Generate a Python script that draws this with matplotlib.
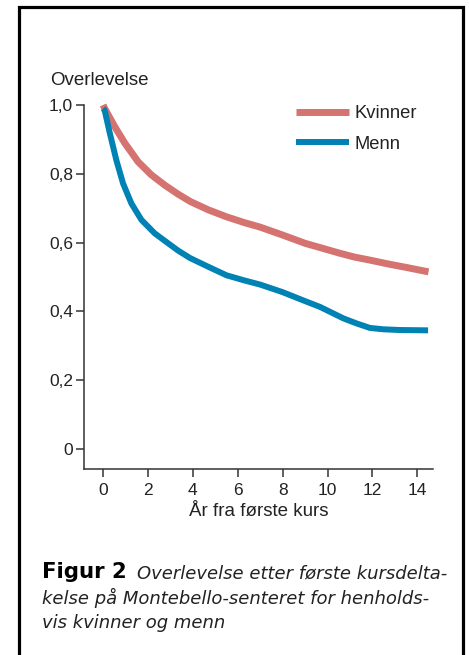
import matplotlib.pyplot as plt
from matplotlib.patches import Rectangle

# survival (years, proportion alive)
t_kvinner = [0, 0.07, 0.52, 0.97, 1.56, 2.15, 2.75, 3.34, 3.9, 4.7, 5.5, 6.3,
             7.0, 8.0, 9.0, 9.7, 10.5, 11.2, 11.9, 12.7, 13.5, 14.5]
s_kvinner = [1.0, 0.99, 0.937, 0.889, 0.835, 0.797, 0.767, 0.741, 0.719,
             0.695, 0.675, 0.658, 0.645, 0.622, 0.598, 0.585, 0.57, 0.558,
             0.549, 0.538, 0.528, 0.515]

t_menn = [0, 0.07, 0.30, 0.59, 0.89, 1.26, 1.71, 2.30, 2.90, 3.34, 3.88,
          4.68, 5.5, 6.3, 7.0, 8.0, 9.0, 9.67, 10.7, 11.3, 11.89, 12.5, 13.2,
          14.48]
s_menn = [0.99, 0.985, 0.918, 0.84, 0.772, 0.714, 0.666, 0.627, 0.598, 0.577,
          0.555, 0.53, 0.505, 0.49, 0.478, 0.456, 0.43, 0.413, 0.38, 0.365,
          0.352, 0.348, 0.346, 0.345]

xticks = [0, 2, 4, 6, 8, 10, 12, 14]
yticks = [0, 0.2, 0.4, 0.6, 0.8, 1.0]
ylabels = ["0", "0,2", "0,4", "0,6", "0,8", "1,0"]

red = "#d4736f"
blue = "#0082b4"
ink = "#222222"

plt.rcParams['font.family'] = ['Liberation Sans', 'DejaVu Sans']

W, H = 469, 655
fig = plt.figure(figsize=(W / 100, H / 100), dpi=100)

# frame around the whole figure (open at the bottom of the crop)
fig.patches.append(Rectangle((18.5 / W, -0.05), (463 - 18.5) / W, 1.05 - 6.5 / H,
                             transform=fig.transFigure, fill=False,
                             edgecolor="black", linewidth=2.3, clip_on=False))

ax = fig.add_axes([84 / W, (H - 469) / H, (433 - 84) / W, (469 - 105) / H])
ax.plot(t_kvinner, s_kvinner, color=red, lw=5, label="Kvinner",
        solid_capstyle="butt", clip_on=False)
ax.plot(t_menn, s_menn, color=blue, lw=4.3, label="Menn",
        solid_capstyle="butt", clip_on=False)

ax.set_xlim(-0.85, 14.7)
ax.set_ylim(-0.058, 1.0)
ax.set_xticks(xticks)
ax.set_xticklabels([str(v) for v in xticks])
ax.set_yticks(yticks)
ax.set_yticklabels(ylabels)

for s in ["top", "right"]:
    ax.spines[s].set_visible(False)
for s in ["left", "bottom"]:
    ax.spines[s].set_linewidth(1.1)
    ax.spines[s].set_color("#333333")
ax.tick_params(axis="both", length=6, width=1.1, color="#333333",
               labelsize=12.5, labelcolor=ink)
ax.tick_params(axis="x", pad=4)
ax.tick_params(axis="y", pad=2)

ax.set_xlabel("År fra første kurs", fontsize=13.5, color=ink, labelpad=4)
fig.text(50 / W, 1 - 85 / H, "Overlevelse", fontsize=13.5, color=ink,
         ha="left", va="baseline")

ax.legend(frameon=False, loc="upper left",
          bbox_to_anchor=(296 / W, 1 - 105 / H), bbox_transform=fig.transFigure,
          borderpad=0, borderaxespad=0, handlelength=2.9, handletextpad=0.3,
          labelspacing=0.75, fontsize=13.2, labelcolor=ink)

# caption
fig.text(42 / W, 1 - 578 / H, "Figur 2", fontsize=15.3, fontweight="bold",
         family="DejaVu Sans", color="black", ha="left", va="baseline")
cap = dict(fontsize=13.0, style="italic", family="DejaVu Sans", color=ink,
           ha="left", va="baseline")
fig.text(137 / W, 1 - 578 / H, "Overlevelse etter første kursdelta-", **cap)
fig.text(42 / W, 1 - 604 / H, "kelse på Montebello-senteret for henholds-", **cap)
fig.text(42 / W, 1 - 628 / H, "vis kvinner og menn", **cap)

fig.savefig("out.png", dpi=100)
